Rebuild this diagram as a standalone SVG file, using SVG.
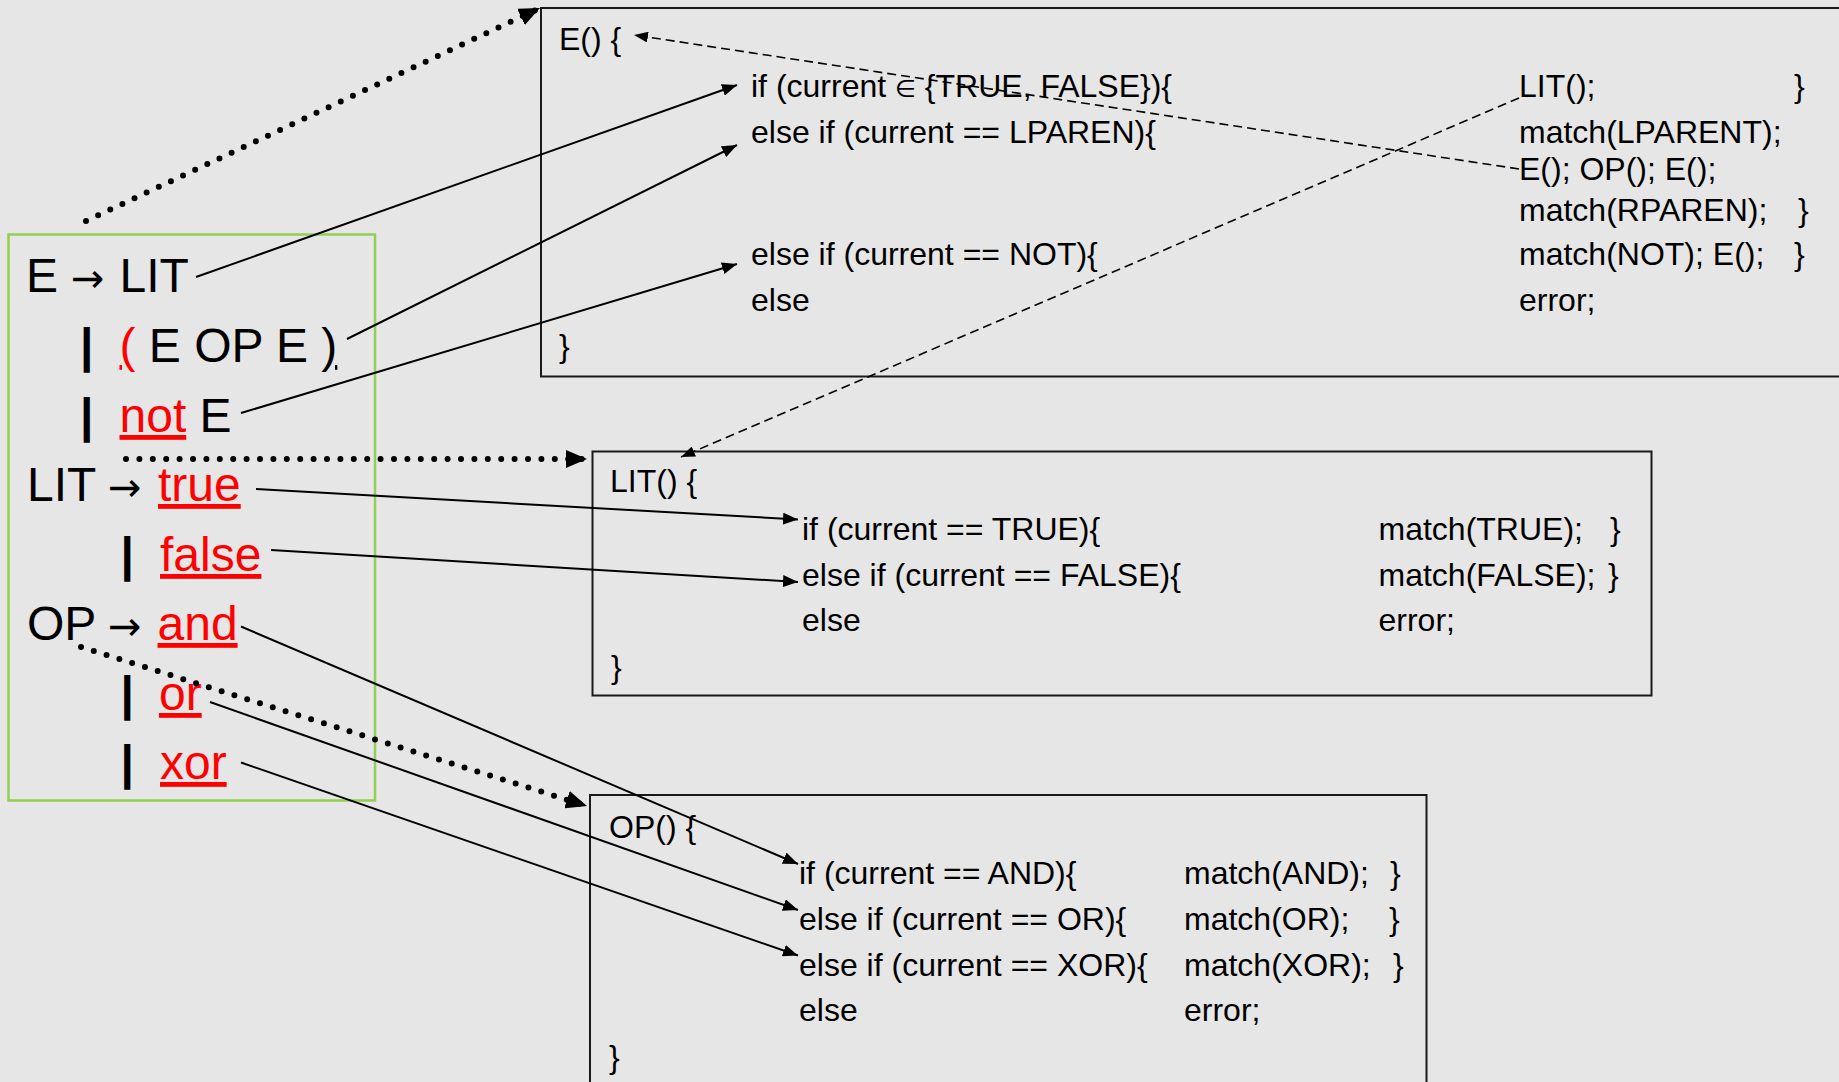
<svg xmlns="http://www.w3.org/2000/svg" width="1839" height="1082" viewBox="0 0 1839 1082">
<style>
.g{font-family:"Liberation Sans",Arial,sans-serif;font-size:48px;fill:#000}
.r{fill:#ff0000}
.u{text-decoration:underline}
.bar{font-weight:bold}
.arr{font-family:"DejaVu Sans",sans-serif;font-size:40px;fill:#000}
.c{font-family:"Liberation Sans","DejaVu Sans",Arial,sans-serif;font-size:32px;fill:#000}
.el{font-family:"DejaVu Sans",sans-serif;font-size:24px}
.box{fill:none;stroke:#1a1a1a;stroke-width:2}
.gbox{fill:none;stroke:#92d050;stroke-width:2.5}
.solid{fill:none;stroke:#000;stroke-width:2;marker-end:url(#ah)}
.dot{fill:none;stroke:#000;stroke-width:6;stroke-linecap:round;stroke-dasharray:0 13.4;marker-end:url(#ahd)}
.dash{fill:none;stroke:#000;stroke-width:1.6;stroke-dasharray:9 5;marker-end:url(#ah2)}
</style>
<defs>
<marker id="ah" markerUnits="userSpaceOnUse" markerWidth="16" markerHeight="12" refX="15" refY="6" orient="auto"><path d="M0,0 L15,6 L0,12 z" fill="#000"/></marker>
<marker id="ahd" markerUnits="userSpaceOnUse" markerWidth="22" markerHeight="18" refX="21" refY="9" orient="auto"><path d="M0,0 L21,9 L0,18 z" fill="#000"/></marker>
<marker id="ah2" markerUnits="userSpaceOnUse" markerWidth="15" markerHeight="11" refX="14" refY="5.5" orient="auto"><path d="M0,0 L14,5.5 L0,11 z" fill="#000"/></marker>
</defs>
<rect x="0" y="0" width="1839" height="1082" fill="#e6e6e6"/>

<g id="grammar">
<rect class="gbox" x="8.5" y="234.5" width="366.5" height="566"/>
<text class="g" x="26" y="292">E</text>
<text class="arr" x="71" y="292">→</text>
<text class="g" x="119.5" y="292">LIT</text>
<text class="g bar" x="80" y="362">|</text>
<text class="g" x="119.5" y="362"><tspan class="r u">(</tspan> E OP E <tspan class="u">)</tspan></text>
<text class="g bar" x="80" y="432">|</text>
<text class="g" x="119.5" y="432"><tspan class="r u">not</tspan> E</text>
<text class="g" x="27" y="501">LIT</text>
<text class="arr" x="108" y="501">→</text>
<text class="g r u" x="158" y="501">true</text>
<text class="g bar" x="120.5" y="571">|</text>
<text class="g r u" x="160" y="571">false</text>
<text class="g" x="27" y="640">OP</text>
<text class="arr" x="108" y="640">→</text>
<text class="g r u" x="157.5" y="640">and</text>
<text class="g bar" x="120.5" y="710">|</text>
<text class="g r u" x="159" y="710">or</text>
<text class="g bar" x="120.5" y="779">|</text>
<text class="g r u" x="160" y="779">xor</text>
</g>

<g id="E-func">
<rect class="box" x="541" y="8" width="1320" height="368.5"/>
<text class="c" x="559" y="50">E() {</text>
<text class="c" x="751" y="97">if (current <tspan class="el">∈</tspan> {TRUE, FALSE}){</text>
<text class="c" x="751" y="143">else if (current == LPAREN){</text>
<text class="c" x="751" y="265">else if (current == NOT){</text>
<text class="c" x="751" y="311">else</text>
<text class="c" x="559" y="357">}</text>
<text class="c" x="1519" y="97">LIT();<tspan x="1794">}</tspan></text>
<text class="c" x="1519" y="143">match(LPARENT);</text>
<text class="c" x="1519" y="180">E(); OP(); E();</text>
<text class="c" x="1519" y="221">match(RPAREN);<tspan x="1798">}</tspan></text>
<text class="c" x="1519" y="265">match(NOT); E();<tspan x="1794">}</tspan></text>
<text class="c" x="1519" y="311">error;</text>
</g>

<g id="LIT-func">
<rect class="box" x="592.5" y="451.5" width="1059" height="244"/>
<text class="c" x="610" y="492">LIT() {</text>
<text class="c" x="802" y="540">if (current == TRUE){</text>
<text class="c" x="802" y="586">else if (current == FALSE){</text>
<text class="c" x="802" y="631">else</text>
<text class="c" x="611" y="678">}</text>
<text class="c" x="1378.5" y="540">match(TRUE);<tspan x="1610">}</tspan></text>
<text class="c" x="1378.5" y="586">match(FALSE);<tspan x="1608">}</tspan></text>
<text class="c" x="1378.5" y="631">error;</text>
</g>

<g id="OP-func">
<rect class="box" x="590" y="795" width="836.5" height="300"/>
<text class="c" x="609" y="838">OP() {</text>
<text class="c" x="799" y="884">if (current == AND){</text>
<text class="c" x="799" y="930">else if (current == OR){</text>
<text class="c" x="799" y="975.5">else if (current == XOR){</text>
<text class="c" x="799" y="1021">else</text>
<text class="c" x="609" y="1068">}</text>
<text class="c" x="1184" y="884">match(AND);<tspan x="1390">}</tspan></text>
<text class="c" x="1184" y="930">match(OR);<tspan x="1389">}</tspan></text>
<text class="c" x="1184" y="975.5">match(XOR);<tspan x="1393">}</tspan></text>
<text class="c" x="1184" y="1021">error;</text>
</g>

<g id="connectors">
<path class="solid" d="M196,277 L737,85"/>
<path class="solid" d="M347,339 L737,145"/>
<path class="solid" d="M241,413 L737,264"/>
<path class="solid" d="M256,489 L798,519.5"/>
<path class="solid" d="M271,550 L798,582"/>
<path class="solid" d="M241,626.5 L798,864"/>
<path class="solid" d="M210,702 L798,910"/>
<path class="solid" d="M241,762.5 L798,955.5"/>
<path class="dot" d="M86,221 L540,8"/>
<path class="dot" d="M126,459 L587,459"/>
<path class="dot" d="M81,647 L587,806"/>
<path class="dash" d="M1519,169 L634,35"/>
<path class="dash" d="M1519,98 L681,457"/>
</g>
</svg>
